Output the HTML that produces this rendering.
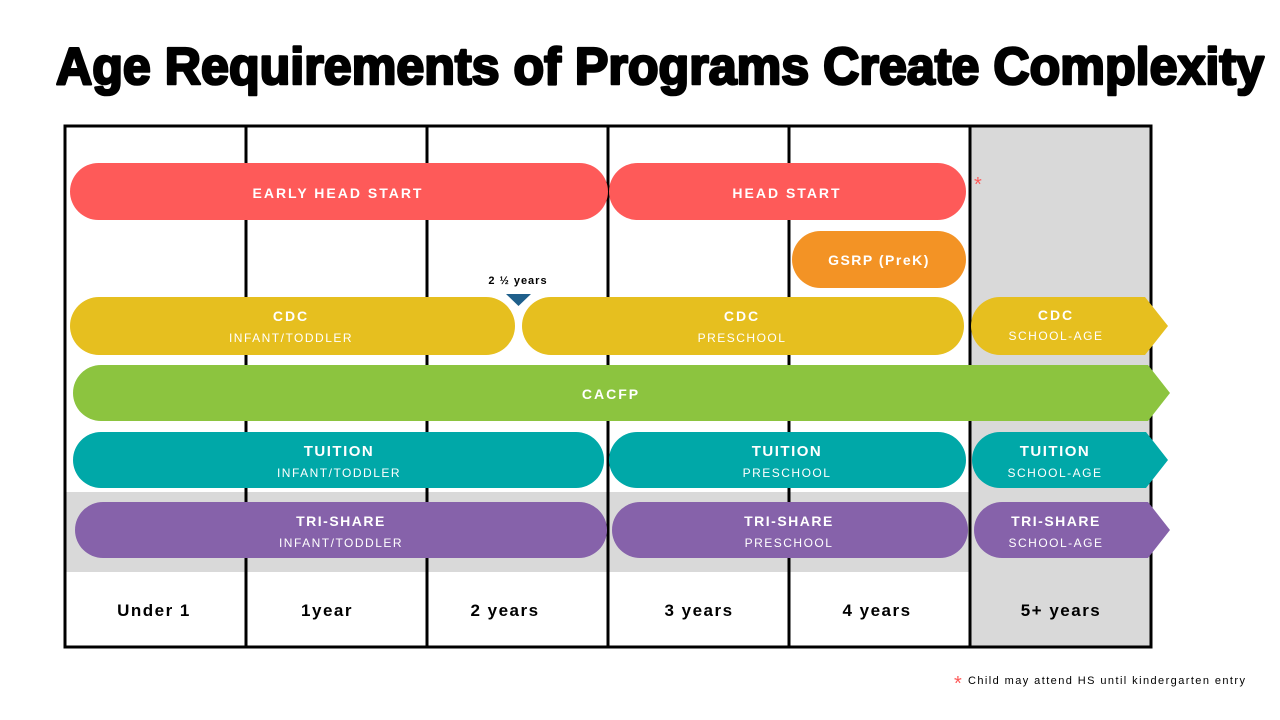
<!DOCTYPE html>
<html><head><meta charset="utf-8"><style>html,body{margin:0;padding:0;background:#fff}svg{display:block}</style></head>
<body>
<svg width="1280" height="720" viewBox="0 0 1280 720" xmlns="http://www.w3.org/2000/svg" font-family="Liberation Sans, sans-serif">
<text x="56" y="84" font-size="52" font-weight="bold" textLength="1208" lengthAdjust="spacingAndGlyphs" fill="#000" stroke="#000" stroke-width="2.6" stroke-linejoin="round">Age Requirements of Programs Create Complexity</text>
<rect x="970" y="126" width="181" height="521" fill="#d9d9d9"/>
<rect x="65" y="492" width="905" height="80" fill="#d9d9d9"/>
<g stroke="#000" stroke-width="3">
<rect x="65" y="126" width="1086" height="521" fill="none"/>
<line x1="246" y1="126" x2="246" y2="647"/><line x1="427" y1="126" x2="427" y2="647"/>
<line x1="608" y1="126" x2="608" y2="647"/><line x1="789" y1="126" x2="789" y2="647"/>
<line x1="970" y1="126" x2="970" y2="647"/>
</g>
<g>
<rect x="70" y="163" width="538" height="57" rx="28.5" fill="#fe5a59"/>
<rect x="609" y="163" width="357" height="57" rx="28.5" fill="#fe5a59"/>
<rect x="792" y="231" width="174" height="57" rx="28.5" fill="#f39325"/>
<rect x="70" y="297" width="445" height="58" rx="29" fill="#e6bf1f"/>
<rect x="522" y="297" width="442" height="58" rx="29" fill="#e6bf1f"/>
<path d="M1000 297 H1145 L1168 326 L1145 355 H1000 A29 29 0 0 1 1000 297Z" fill="#e6bf1f"/>
<path d="M101 365 H1148 L1170 393 L1148 421 H101 A28 28 0 0 1 101 365Z" fill="#8cc43f"/>
<rect x="73" y="432" width="531" height="56" rx="28" fill="#00a8a8"/>
<rect x="609" y="432" width="357" height="56" rx="28" fill="#00a8a8"/>
<path d="M1000 432 H1146 L1168 460 L1146 488 H1000 A28 28 0 0 1 1000 432Z" fill="#00a8a8"/>
<rect x="75" y="502" width="532" height="56" rx="28" fill="#8662aa"/>
<rect x="612" y="502" width="356" height="56" rx="28" fill="#8662aa"/>
<path d="M1002 502 H1148 L1170 530 L1148 558 H1002 A28 28 0 0 1 1002 502Z" fill="#8662aa"/>
</g>
<path d="M506 294 H531 L518.5 306Z" fill="#1f5f8b"/>
<text x="518" y="284" font-size="11" font-weight="bold" text-anchor="middle" letter-spacing="1">2 ½ years</text>
<text x="974" y="191" font-size="20" fill="#fe5a59">*</text>
<g fill="#fff" font-weight="bold" font-size="14" text-anchor="middle" letter-spacing="2">
<text x="338" y="198">EARLY HEAD START</text>
<text x="787" y="198">HEAD START</text>
<text x="879" y="265" letter-spacing="1.5">GSRP (PreK)</text>
<text x="291" y="321">CDC</text><text x="742" y="321">CDC</text><text x="1056" y="320">CDC</text>
<text x="611" y="399">CACFP</text>
<text x="339" y="456" font-size="15" letter-spacing="1.5">TUITION</text>
<text x="787" y="456" font-size="15" letter-spacing="1.5">TUITION</text>
<text x="1055" y="456" font-size="15" letter-spacing="1.5">TUITION</text>
<text x="341" y="526" letter-spacing="1.5">TRI-SHARE</text>
<text x="789" y="526" letter-spacing="1.5">TRI-SHARE</text>
<text x="1056" y="526" letter-spacing="1.5">TRI-SHARE</text>
</g>
<g fill="#fff" font-size="12" text-anchor="middle" letter-spacing="1.5">
<text x="291" y="342">INFANT/TODDLER</text><text x="742" y="342">PRESCHOOL</text><text x="1056" y="340">SCHOOL-AGE</text>
<text x="339" y="477">INFANT/TODDLER</text><text x="787" y="477">PRESCHOOL</text><text x="1055" y="477">SCHOOL-AGE</text>
<text x="341" y="547">INFANT/TODDLER</text><text x="789" y="547">PRESCHOOL</text><text x="1056" y="547">SCHOOL-AGE</text>
</g>
<g font-size="17" font-weight="bold" text-anchor="middle" letter-spacing="1.5" fill="#000">
<text x="154" y="616">Under 1</text><text x="327" y="616">1year</text><text x="505" y="616">2 years</text>
<text x="699" y="616">3 years</text><text x="877" y="616">4 years</text><text x="1061" y="616">5+ years</text>
</g>
<text x="954" y="690" font-size="20" fill="#fe5a59">*</text>
<text x="968" y="684" font-size="11" textLength="277" lengthAdjust="spacing" fill="#000">Child may attend HS until kindergarten entry</text>
</svg>
</body></html>
